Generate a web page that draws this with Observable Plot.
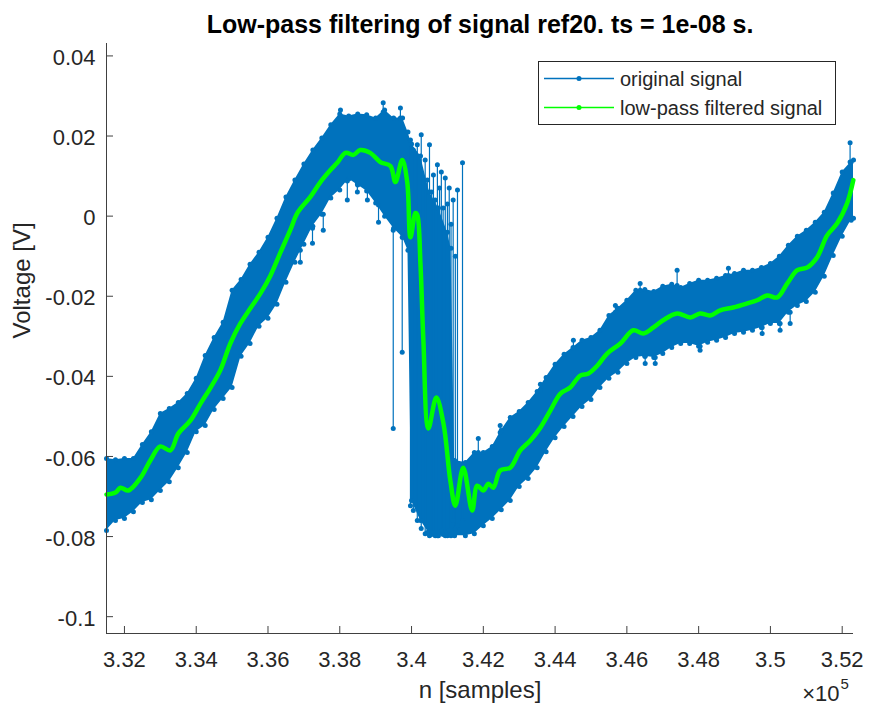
<!DOCTYPE html>
<html><head><meta charset="utf-8">
<script src="https://cdn.jsdelivr.net/npm/d3@7"></script>
<script src="https://cdn.jsdelivr.net/npm/@observablehq/plot@0.6"></script>
<style>
html,body{margin:0;padding:0;background:#fff;}
#chart{width:869px;height:706px;}
</style></head><body><div id="chart"></div>
<script>
const titleText = "Low-pass filtering of signal ref20. ts = 1e-08 s.";
const xLabel = "n [samples]";
const yLabel = "Voltage [V]";
const seriesNames = ["original signal", "low-pass filtered signal"];
const xTicks = [332000, 334000, 336000, 338000, 340000, 342000, 344000, 346000, 348000, 350000, 352000];
const xTickLabels = ["3.32", "3.34", "3.36", "3.38", "3.4", "3.42", "3.44", "3.46", "3.48", "3.5", "3.52"];
const xMultiplier = "\u00d710";
const xExponent = "5";
const yTicks = [-0.1, -0.08, -0.06, -0.04, -0.02, 0, 0.02, 0.04];
const yTickLabels = ["-0.1", "-0.08", "-0.06", "-0.04", "-0.02", "0", "0.02", "0.04"];
const xDomain = [331500, 352315];
const yDomain = [-0.1042, 0.0431];

// original signal: envelope of the dense noisy band
const nEnv = [
  331500, 331750, 332000, 332250, 332500, 332750, 333000, 333250, 333500, 333750,
  334000, 334250, 334500, 334750, 335000, 335250, 335500, 335750, 336000, 336250,
  336500, 336750, 337000, 337250, 337500, 337750, 338000, 338250, 338500, 338750,
  339000, 339250, 339500, 339750, 339900, 340000, 340250, 340500, 340750, 341000,
  341100, 341200, 341500, 341750, 342000, 342250, 342500, 342750, 343000, 343250,
  343500, 343750, 344000, 344250, 344500, 344750, 345000, 345250, 345500, 345750,
  346000, 346250, 346500, 346750, 347000, 347250, 347500, 347750, 348000, 348250,
  348500, 348750, 349000, 349250, 349500, 349750, 350000, 350250, 350500, 350750,
  351000, 351250, 351500, 351750, 352000, 352250, 352315];
const hiEnv = [
  -0.0605, -0.0608, -0.0605, -0.0605, -0.057, -0.0538, -0.0493, -0.048, -0.0465, -0.0443,
  -0.0405, -0.0348, -0.0303, -0.0265, -0.0185, -0.0158, -0.012, -0.009, -0.0053, -0.0005,
  0.0048, 0.009, 0.013, 0.0165, 0.0195, 0.0228, 0.0255, 0.025, 0.0255, 0.0253,
  0.0245, 0.0265, 0.0245, 0.0245, 0.021, 0.018, 0.015, 0.006, 0.002, -0.004,
  -0.008, -0.061, -0.0615, -0.059, -0.059, -0.0575, -0.0535, -0.0503, -0.0488, -0.0465,
  -0.0438, -0.0403, -0.037, -0.0345, -0.0328, -0.031, -0.0303, -0.0285, -0.0248, -0.023,
  -0.021, -0.0185, -0.0183, -0.0188, -0.0175, -0.017, -0.0178, -0.0168, -0.016, -0.016,
  -0.0155, -0.0148, -0.0143, -0.0135, -0.0135, -0.0128, -0.0118, -0.01, -0.0073, -0.005,
  -0.0035, -0.0015, 0.001, 0.0058, 0.011, 0.0135, 0.014];
const loEnv = [
  -0.0785, -0.076, -0.0755, -0.0738, -0.0715, -0.0708, -0.0685, -0.0663, -0.0628, -0.059,
  -0.0538, -0.0523, -0.0483, -0.0455, -0.0428, -0.035, -0.0318, -0.0275, -0.0255, -0.022,
  -0.0165, -0.0115, -0.007, -0.0025, 0.0005, 0.0045, 0.0065, 0.0093, 0.0078, 0.0063,
  0.0033, 0.0, -0.003, -0.0053, -0.0085, -0.071, -0.076, -0.0793, -0.0798, -0.0798,
  -0.0798, -0.0798, -0.0798, -0.0793, -0.0773, -0.0755, -0.0733, -0.071, -0.0675, -0.0655,
  -0.0628, -0.0588, -0.0553, -0.0525, -0.05, -0.0475, -0.0458, -0.0428, -0.0405, -0.039,
  -0.0368, -0.0353, -0.035, -0.0353, -0.0343, -0.0328, -0.0318, -0.0318, -0.0325, -0.0315,
  -0.031, -0.0303, -0.0293, -0.029, -0.0285, -0.0278, -0.0268, -0.0268, -0.024, -0.0223,
  -0.0213, -0.019, -0.015, -0.0098, -0.005, -0.001, -0.0005];

// original signal: isolated jumps / outliers (sample n, from value, to value)
const nSpike = [
  339490, 339740, 339970, 340050, 340160, 340270, 340380, 340440, 340500, 340560,
  340610, 340660, 340720, 340780, 340830, 340880, 340940, 341000, 341050, 341100,
  341160, 341220, 341280, 341420,
  336900, 337240, 337540, 338210, 338490, 338770, 339080, 338020, 339210, 339690,
  341860, 342470, 343590, 344510, 345680, 346370, 347400, 348830, 352220, 346510,
  346790, 348040, 349770, 350270, 350550];
const spikeA = [
  -0.0035, -0.0053, 0.019, 0.0165, 0.0178, 0.0203, 0.014, 0.009, 0.0178, 0.006,
  0.0103, 0.004, 0.0128, 0.007, 0.011, 0.002, 0.0095, 0.003, 0.007, -0.002,
  0.004, -0.01, 0.0065, 0.0133,
  -0.0085, -0.003, 0.0005, 0.0088, 0.008, 0.0065, 0.0028, 0.025, 0.026, 0.0245,
  -0.059, -0.054, -0.0435, -0.033, -0.024, -0.0185, -0.0173, -0.0148, 0.0135, -0.035,
  -0.0353, -0.0325, -0.0278, -0.0268, -0.024];
const spikeB = [
  -0.053, -0.034, -0.0723, -0.0735, -0.076, -0.078, -0.0793, -0.079, -0.0798, -0.0795,
  -0.079, -0.0798, -0.0798, -0.079, -0.0785, -0.0795, -0.0798, -0.079, -0.0785, -0.0795,
  -0.076, -0.078, -0.0773, -0.076,
  -0.0115, -0.0068, -0.0035, 0.004, 0.006, 0.004, -0.0015, 0.0265, 0.0283, 0.027,
  -0.0555, -0.0523, -0.042, -0.031, -0.0223, -0.0168, -0.0135, -0.013, 0.0183, -0.0368,
  -0.0368, -0.0335, -0.0293, -0.0285, -0.0268];

// low-pass filtered signal
const nFilt = [
  331500, 331750, 331890, 332110, 332450, 332720, 333000, 333280, 333500, 333840,
  334120, 334400, 334670, 334950, 335230, 335510, 335790, 336070, 336350, 336620,
  336820, 337180, 337460, 337740, 337930, 338160, 338380, 338570, 338850, 339130,
  339410, 339550, 339740, 339880, 339970, 340110, 340160, 340250, 340330, 340470,
  340690, 340890, 341080, 341220, 341440, 341690, 341830, 342000, 342140, 342280,
  342470, 342750, 343030, 343310, 343590, 343870, 344150, 344420, 344700, 344930,
  345180, 345450, 345820, 346180, 346460, 346740, 347010, 347400, 347770, 348040,
  348320, 348600, 348960, 349350, 349630, 349910, 350190, 350470, 350750, 351030,
  351300, 351580, 351860, 352140, 352310];
const vFilt = [
  -0.0695, -0.069, -0.0678, -0.0685, -0.0653, -0.061, -0.0575, -0.0585, -0.0543, -0.051,
  -0.0468, -0.0428, -0.0385, -0.0318, -0.0268, -0.023, -0.0193, -0.0148, -0.009, -0.0035,
  0.0008, 0.0048, 0.0085, 0.0115, 0.0133, 0.0158, 0.0153, 0.0165, 0.0158, 0.0135,
  0.0125, 0.0085, 0.014, 0.0085, -0.0053, 0.0008, 0.0003, -0.0123, -0.031, -0.053,
  -0.0453, -0.0518, -0.066, -0.0723, -0.0628, -0.0735, -0.0673, -0.0685, -0.0668, -0.0678,
  -0.0635, -0.0628, -0.0585, -0.056, -0.0528, -0.0485, -0.0443, -0.0428, -0.0398, -0.0393,
  -0.0373, -0.0343, -0.0318, -0.0285, -0.0293, -0.0278, -0.026, -0.0243, -0.0253, -0.0243,
  -0.0248, -0.0235, -0.0228, -0.0218, -0.021, -0.0198, -0.0203, -0.0168, -0.0135, -0.0128,
  -0.0103, -0.0048, -0.0018, 0.0033, 0.009];

const blue = "#0072BD";
const green = "#00FF00";
const ink = "#262626";
const axisColor = "#404040";
const font = "'Liberation Sans', Arial, Helvetica, sans-serif";

const env = nEnv.map((n, i) => ({n, hi: hiEnv[i], lo: loEnv[i]}));
const spikes = nSpike.map((n, i) => ({n, a: spikeA[i], b: spikeB[i]}));
const filt = nFilt.map((n, i) => ({n, v: vFilt[i]}));

const W = 869, H = 706, mL = 106, mR = 16, mT = 43, mB = 73;
const frameW = W - mL - mR, frameH = H - mT - mB;
const tickLen = 7;

const chart = Plot.plot({
  width: W, height: H,
  marginLeft: mL, marginRight: mR, marginTop: mT, marginBottom: mB,
  style: {fontFamily: font, background: "white", overflow: "visible"},
  x: {domain: xDomain, axis: null},
  y: {domain: yDomain, axis: null},
  marks: [
    Plot.areaY(env, {x: "n", y1: "lo", y2: "hi", fill: blue, curve: "linear"}),
    Plot.ruleX(spikes, {x: "n", y1: "a", y2: "b", stroke: blue, strokeWidth: 1.2}),
    Plot.dot(env, {x: "n", y: "hi", r: 2.5, fill: blue}),
    Plot.dot(env, {x: "n", y: "lo", r: 2.5, fill: blue}),
    Plot.dot(spikes, {x: "n", y: "a", r: 2.5, fill: blue}),
    Plot.dot(spikes, {x: "n", y: "b", r: 2.5, fill: blue}),
    Plot.line(filt, {x: "n", y: "v", stroke: green, strokeWidth: 4.5, curve: "catmull-rom", strokeLinejoin: "round"}),
    // axes lines
    Plot.ruleX([xDomain[0]], {stroke: axisColor, strokeWidth: 1}),
    Plot.ruleY([yDomain[0]], {stroke: axisColor, strokeWidth: 1}),
    // inward ticks
    Plot.tickX(xTicks, {x: d => d, insetTop: frameH - tickLen, stroke: axisColor}),
    Plot.tickY(yTicks, {y: d => d, insetRight: frameW - tickLen, stroke: axisColor}),
    // tick labels
    Plot.text(xTicks, {x: d => d, text: (d, i) => xTickLabels[i], frameAnchor: "bottom", lineAnchor: "top", dy: 18, fontSize: 22, fill: ink}),
    Plot.text(yTicks, {y: d => d, text: (d, i) => yTickLabels[i], frameAnchor: "left", textAnchor: "end", lineAnchor: "middle", dx: -11, dy: 2, fontSize: 22, fill: ink}),
    Plot.text([xMultiplier], {text: d => d, frameAnchor: "bottom-right", textAnchor: "end", lineAnchor: "bottom", dx: -14, dy: 67, fontSize: 22, fill: ink}),
    Plot.text([xExponent], {text: d => d, frameAnchor: "bottom-right", textAnchor: "start", lineAnchor: "bottom", dx: -13, dy: 55, fontSize: 15, fill: ink}),
    // axis labels and title
    Plot.text([xLabel], {text: d => d, frameAnchor: "bottom", lineAnchor: "bottom", dy: 64, fontSize: 24, fill: ink}),
    Plot.text([yLabel], {text: d => d, frameAnchor: "left", rotate: -90, lineAnchor: "bottom", dx: -77, fontSize: 24, fill: ink}),
    Plot.text([titleText], {text: d => d, frameAnchor: "top", lineAnchor: "bottom", dy: -11, fontSize: 25, fontWeight: "bold", fill: "#000"})
  ]
});

// legend
const svg = d3.select(chart);
const lg = svg.append("g").attr("font-family", font).attr("font-size", 20).attr("fill", ink).attr("text-anchor", "start");
lg.append("rect").attr("x", 538.5).attr("y", 61.5).attr("width", 297).attr("height", 63)
  .attr("fill", "white").attr("stroke", ink).attr("stroke-width", 1);
[[blue, 78.5], [green, 107.5]].forEach(([c, y], i) => {
  lg.append("line").attr("x1", 544).attr("x2", 614).attr("y1", y).attr("y2", y).attr("stroke", c).attr("stroke-width", 1.5);
  lg.append("circle").attr("cx", 579).attr("cy", y).attr("r", 2.5).attr("fill", c);
  lg.append("text").attr("x", 620).attr("y", y).attr("dy", "0.35em").attr("text-anchor", "start").text(seriesNames[i]);
});

document.getElementById("chart").appendChild(chart);
</script></body></html>
